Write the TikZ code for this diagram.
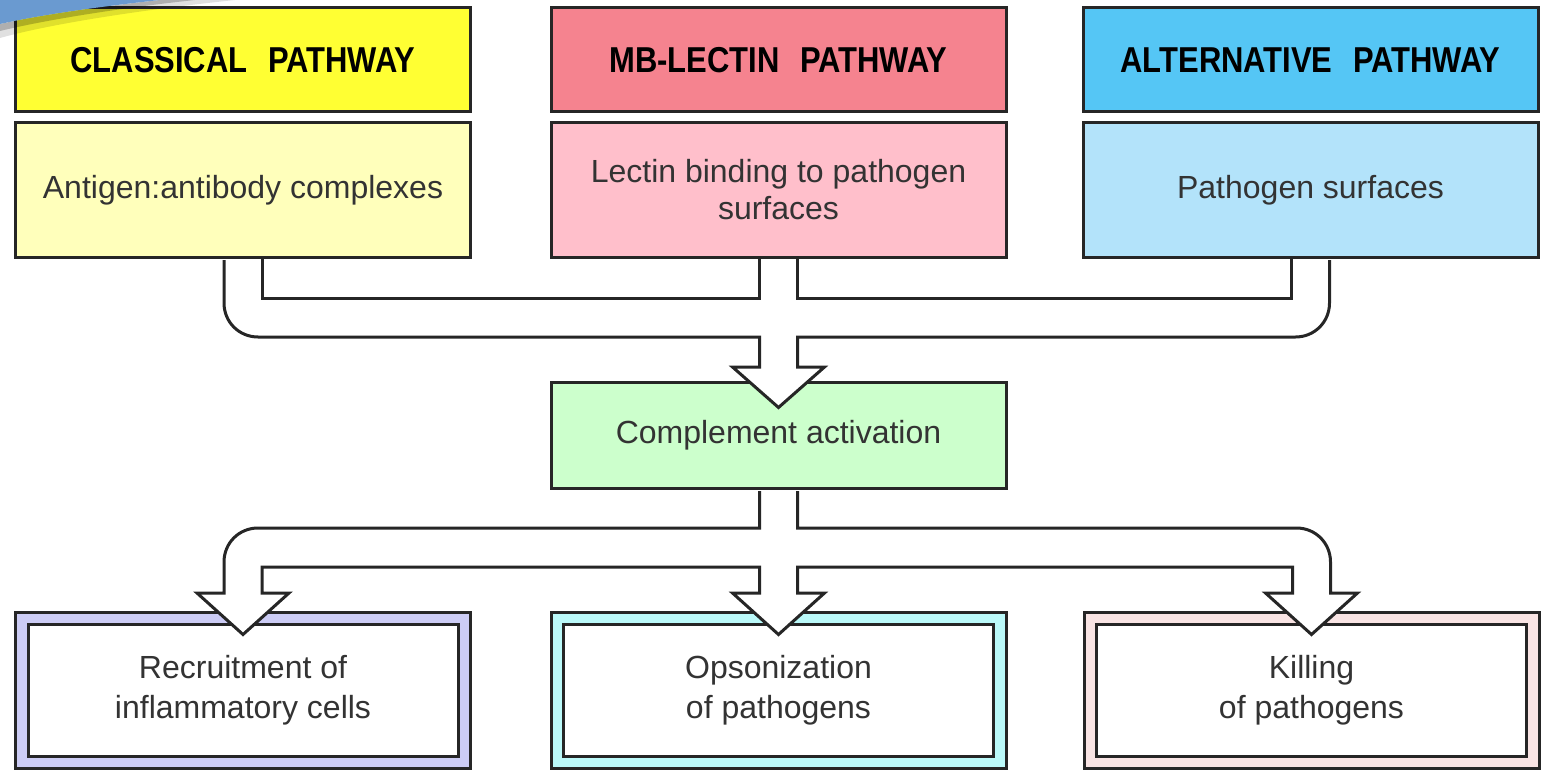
\documentclass[tikz,border=0pt]{standalone}
\usepackage{fontspec}
\setmainfont{Liberation Sans}
\newfontfamily\hdrfont{Liberation Sans}[FakeStretch=0.86]
\usetikzlibrary{calc}
\definecolor{yelH}{HTML}{FFFF33}
\definecolor{yelS}{HTML}{FFFFBB}
\definecolor{pinkH}{HTML}{F5838F}
\definecolor{pinkS}{HTML}{FFBFCB}
\definecolor{bluH}{HTML}{55C6F5}
\definecolor{bluS}{HTML}{B3E3FA}
\definecolor{grn}{HTML}{CCFFCC}
\definecolor{lav}{HTML}{CCCCF5}
\definecolor{cya}{HTML}{BBFAFA}
\definecolor{pnk}{HTML}{F9E4E4}
\definecolor{lineC}{HTML}{262626}
\definecolor{txtC}{HTML}{333333}
\definecolor{swooshC}{HTML}{6A9AD0}
\begin{document}
\begin{tikzpicture}[x=1pt,y=-1pt,
  box/.style={draw=lineC, line width=3pt, minimum width=455pt, inner sep=0pt,
    align=center, text=txtC, font=\fontsize{32}{37}\selectfont},
  hdr/.style={box, minimum height=104pt, text=black,
    font=\hdrfont\bfseries\fontsize{36}{40}\selectfont},
  subbox/.style={box, minimum height=134pt},
  frame/.style={box, minimum height=156pt},
  innerbox/.style={box, fill=white, minimum width=430pt, minimum height=132pt,
    font=\fontsize{32}{40}\selectfont},
  tube/.style={draw=lineC, line width=3pt},
  tubefill/.style={tube, preaction={fill=white}}
]
\useasboundingbox (0,0) rectangle (1541,770);

% top boxes
\node[hdr, fill=yelH] (classH) at (243,60) {CLASSICAL\hspace{12pt} PATHWAY};
\node[subbox, fill=yelS] (classS) at (243,190) {Antigen:antibody complexes};
\node[hdr, fill=pinkH] (mbH) at (778.5,60) {MB-LECTIN\hspace{12pt} PATHWAY};
\node[subbox, fill=pinkS] (mbS) at (778.5,190) {Lectin binding to pathogen\\surfaces};
\node[hdr, fill=bluH] (altH) at (1310.5,60) {ALTERNATIVE\hspace{12pt} PATHWAY};
\node[subbox, fill=bluS] (altS) at (1310.5,190) {Pathogen surfaces};

% middle
\node[box, minimum height=106pt, fill=grn] (comp) at (778.5,435) {Complement activation};

% bottom
\node[frame, fill=lav] (recF) at (243,690) {};
\node[innerbox] (rec) at (recF.center) {Recruitment of\\inflammatory cells};
\node[frame, fill=cya] (opsF) at (778.5,690) {};
\node[innerbox] (ops) at (opsF.center) {Opsonization\\of pathogens};
\node[frame, fill=pnk] (killF) at (1311.5,690) {};
\node[innerbox] (kill) at (killF.center) {Killing\\of pathogens};

% ---------- top connector ----------
\coordinate (c1) at ($(classS.south)+(-19,1.5)$);
\coordinate (c2) at ($(classS.south)+(19,0)$);
\coordinate (m1) at ($(mbS.south)+(-19,0)$);
\coordinate (m2) at ($(mbS.south)+(19,0)$);
\coordinate (a1) at ($(altS.south)+(-19,0)$);
\coordinate (a2) at ($(altS.south)+(19,1.5)$);
\coordinate (tT) at ($(comp.north)+(0,27)$);
\coordinate (inY) at (0,298);
\coordinate (outY) at (0,337);
\coordinate (hbY) at (0,367);

\draw[tubefill] (c1) -- ($(c1|-outY)+(0,-34)$)
  .. controls ($(c1|-outY)+(0,-15)$) and ($(c1|-outY)+(15,0)$) .. ($(c1|-outY)+(34,0)$)
  -- (m1|-outY) -- (m1|-hbY) -- ++(-27,0) -- (tT) -- ($(m2|-hbY)+(27,0)$) -- (m2|-hbY)
  -- (m2|-outY) -- ($(a2|-outY)+(-34,0)$)
  .. controls ($(a2|-outY)+(-15,0)$) and ($(a2|-outY)+(0,-15)$) .. ($(a2|-outY)+(0,-34)$) -- (a2);
\draw[tube] (c2) -- (c2|-inY) -- (m1|-inY) -- (m1);
\draw[tube] (m2) -- (m2|-inY) -- (a1|-inY) -- (a1);

% ---------- bottom connector ----------
\coordinate (g1) at ($(comp.south)+(-19,1.5)$);
\coordinate (g2) at ($(comp.south)+(19,1.5)$);
\coordinate (t1) at ($(recF.north)+(0,24)$);
\coordinate (t2) at ($(opsF.north)+(0,24)$);
\coordinate (t3) at ($(killF.north)+(0,24)$);
\coordinate (l1) at ($(t1)+(-19,0)$);
\coordinate (l2) at ($(t1)+(19,0)$);
\coordinate (r1) at ($(t3)+(-19,0)$);
\coordinate (r2) at ($(t3)+(19,0)$);
\coordinate (upY) at (0,528);
\coordinate (loY) at (0,567);
\coordinate (hb2) at (0,593);

\draw[tubefill] (g1) -- (g1|-upY) -- ($(l1|-upY)+(34,0)$)
  .. controls ($(l1|-upY)+(15,0)$) and ($(l1|-upY)+(0,15)$) .. ($(l1|-upY)+(0,34)$)
  -- (l1|-hb2) -- ++(-27,0) -- (t1) -- ($(l2|-hb2)+(27,0)$) -- (l2|-hb2)
  -- (l2|-loY) -- (g1|-loY) -- (g1|-hb2) -- ++(-27,0) -- (t2) -- ($(g2|-hb2)+(27,0)$) -- (g2|-hb2)
  -- (g2|-loY) -- (r1|-loY) -- (r1|-hb2) -- ++(-27,0) -- (t3) -- ($(r2|-hb2)+(27,0)$) -- (r2|-hb2)
  -- ($(r2|-upY)+(0,34)$)
  .. controls ($(r2|-upY)+(0,15)$) and ($(r2|-upY)+(-15,0)$) .. ($(r2|-upY)+(-34,0)$)
  -- (g2|-upY) -- (g2);

% ---------- corner swoosh ----------
\fill[black, opacity=0.12] (0,24) .. controls (45,14) and (105,6) .. (160,0) -- (235,0)
  .. controls (140,10) and (50,24) .. (0,38) -- cycle;
\fill[black, opacity=0.22] (0,24) .. controls (45,14) and (105,6) .. (160,0) -- (195,0)
  .. controls (120,8) and (45,20) .. (0,31) -- cycle;
\fill[swooshC] (0,0) -- (160,0) .. controls (105,6) and (45,14) .. (0,24) -- cycle;
\end{tikzpicture}
\end{document}
